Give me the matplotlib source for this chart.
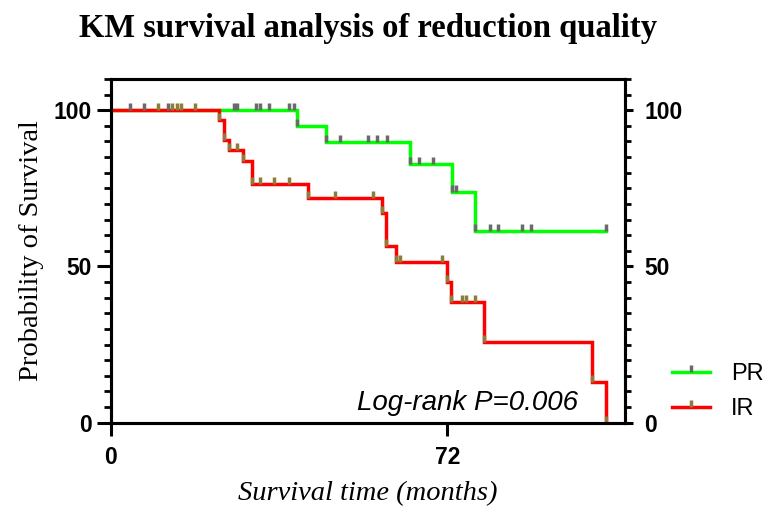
import numpy as np
import matplotlib
matplotlib.use("Agg")
import matplotlib.pyplot as plt
from matplotlib.lines import Line2D

# -------- DATA --------
# PR group: event times (months) and survival level after each drop (%)
pr_event_t = [39.9, 46.1, 63.9, 72.9, 77.8]
pr_event_s = [95.0, 89.8, 82.9, 73.8, 61.4]
pr_end_t = 105.9
pr_cens_t = [4.0, 7.0, 12.1, 26.4, 26.9, 31.0, 31.9, 33.9, 38.0, 39.1,
             48.9, 55.0, 56.9, 59.0, 66.0, 69.0, 73.9,
             81.0, 82.9, 87.9, 89.9, 105.9]

# IR group
ir_event_t = [23.2, 24.1, 25.2, 28.2, 30.2, 42.1, 58.0, 58.8, 61.0,
              71.9, 72.8, 79.9, 102.9, 105.9]
ir_event_s = [96.9, 90.6, 87.3, 83.9, 76.4, 72.0, 67.0, 56.6, 51.4,
              45.0, 38.7, 25.7, 12.9, 0.0]
ir_cens_t = [10.0, 13.0, 14.1, 15.0, 17.9, 26.9, 31.9, 34.9, 38.0,
             48.0, 56.0, 61.9, 70.9, 75.1, 75.9, 78.0]

groups = ["PR", "IR"]
line_colors = {"PR": "#00ff00", "IR": "#ff0000"}
mark_colors = {"PR": "#6a6a6a", "IR": "#8b7d3b"}

X_TICKS = [0, 72]
Y_TICKS = [0, 50, 100]
# ------------------------------------------------

SERIF = "Liberation Serif"
SANS = "Liberation Sans"
TICK_MARK = [(0, 0), (0, 1)]  # vertical tick that sits on top of the curve
TICK_FS = 16.5


def km_curve(event_t, event_s, end_t=None):
    x = [0.0] + list(event_t)
    y = [100.0] + list(event_s)
    if end_t is not None and end_t > x[-1]:
        x.append(end_t)
        y.append(y[-1])
    return np.array(x), np.array(y)


def level_at(t, x, y):
    idx = np.searchsorted(x, t, side="right") - 1
    return y[max(idx, 0)]


fig = plt.figure(figsize=(7.67, 5.07), dpi=100)
ax = fig.add_axes([0.1447, 0.1663, 0.8149 - 0.1447, 0.8442 - 0.1663])

curves = {
    "PR": (pr_event_t, pr_event_s, pr_end_t, pr_cens_t),
    "IR": (ir_event_t, ir_event_s, None, ir_cens_t),
}

handles = []
for g in groups:
    ev_t, ev_s, end_t, cens = curves[g]
    x, y = km_curve(ev_t, ev_s, end_t)
    ax.step(x, y, where="post", color=line_colors[g], lw=2.5, zorder=3 if g == "IR" else 2,
            solid_joinstyle="miter")
    # marks at every event and every censored case
    mx = list(ev_t) + list(cens)
    my = list(ev_s) + [level_at(t, x, y) for t in cens]
    ax.plot(mx, my, ls="none", marker=TICK_MARK, markersize=10.5,
            markeredgewidth=2.5, markeredgecolor=mark_colors[g], zorder=4)
    handles.append(Line2D([], [], color=line_colors[g], lw=2.5, marker=TICK_MARK,
                          markersize=10.5, markeredgewidth=2.5,
                          markeredgecolor=mark_colors[g], label=g))

ax.set_xlim(0, 110)
ax.set_ylim(0, 110)
ax.set_xticks(X_TICKS)
ax.set_yticks(Y_TICKS)
ax.set_yticks(np.arange(0, 111, 5), minor=True)

for s in ax.spines.values():
    s.set_linewidth(2.2)

ax.tick_params(axis="x", direction="out", length=9, width=2.2, pad=8)
ax.tick_params(axis="y", which="major", direction="out", length=10, width=2.2, pad=4)
ax.tick_params(axis="y", which="minor", direction="out", length=5, width=2.0)
for lab in ax.get_xticklabels() + ax.get_yticklabels():
    lab.set_fontfamily(SANS)
    lab.set_fontweight("bold")
    lab.set_fontsize(TICK_FS)

ax2 = ax.twinx()
ax2.set_ylim(ax.get_ylim())
ax2.set_yticks(Y_TICKS)
ax2.set_yticks(np.arange(0, 111, 5), minor=True)
ax2.tick_params(axis="y", which="major", direction="out", length=6, width=2.2, pad=8)
ax2.tick_params(axis="y", which="minor", direction="out", length=4.5, width=2.0)
for lab in ax2.get_yticklabels():
    lab.set_fontfamily(SANS)
    lab.set_fontweight("bold")
    lab.set_fontsize(TICK_FS)
for s in ax2.spines.values():
    s.set_linewidth(2.2)

ax.set_ylabel("Probability of Survival", fontfamily=SERIF, fontsize=20.5)
ax.yaxis.set_label_coords(-0.155, 0.5)
ax.yaxis.label.set_verticalalignment("center")

ax.set_xlabel("Survival time (months)", fontfamily=SERIF, fontstyle="italic", fontsize=20.5)
ax.xaxis.set_label_coords(0.5, -0.205)
ax.xaxis.label.set_verticalalignment("center")

ax.text(52.7, 6.3, "Log-rank P=0.006", fontfamily=SANS, fontstyle="italic",
        fontsize=20, va="center", ha="left")

fig.text(0.48, 1 - 28 / 507, "KM survival analysis of reduction quality",
         fontfamily=SERIF, fontweight="bold", fontsize=23.5, ha="center", va="center")

fig.legend(handles=handles, loc="center left", bbox_to_anchor=(0.876, 0.228),
           frameon=False, borderpad=0, borderaxespad=0, handlelength=1.6,
           handletextpad=0.9, labelspacing=0.55,
           prop={"family": SANS, "size": 17})

fig.savefig("out.png", dpi=100)
